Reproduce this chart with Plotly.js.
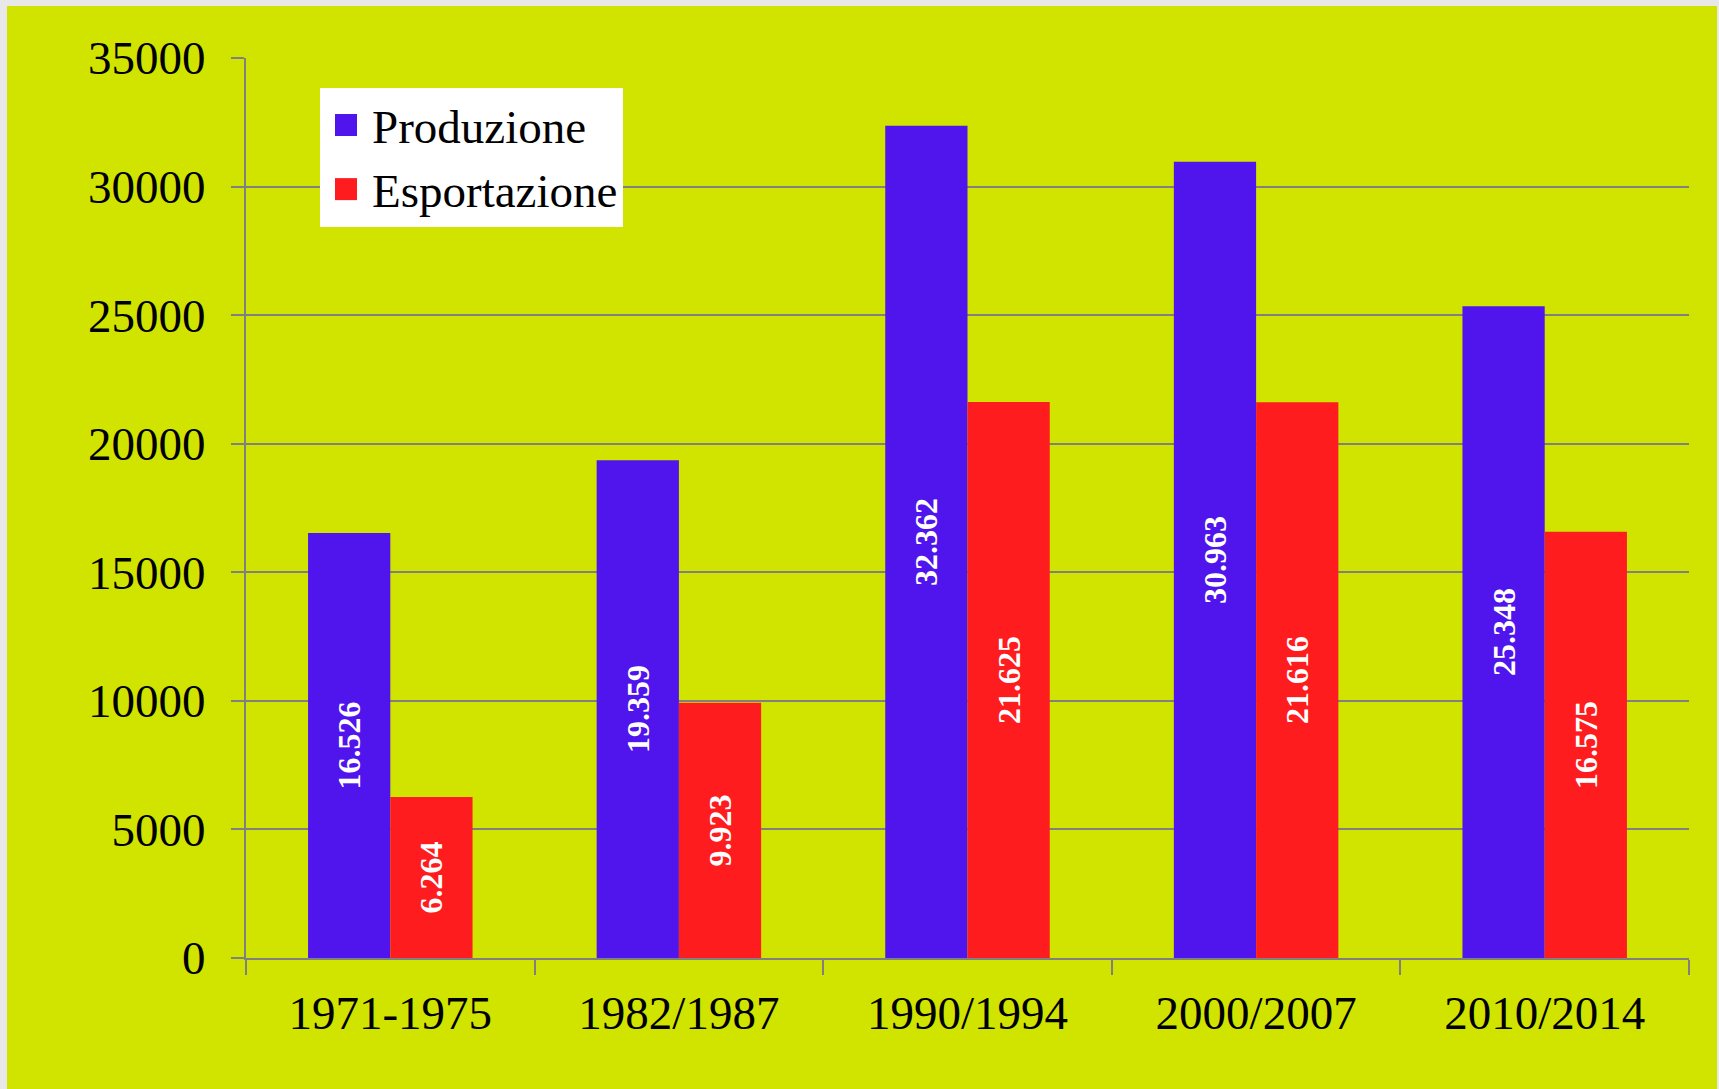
<!DOCTYPE html>
<html>
<head>
<meta charset="utf-8">
<script src="https://cdn.plot.ly/plotly-3.0.1.min.js"></script>
<style>
  html, body { margin: 0; padding: 0; background: #e8e8e8; width: 1719px; height: 1089px; overflow: hidden; }
  #chart { position: absolute; left: 7px; top: 6px; width: 1710px; height: 1083px; }
</style>
</head>
<body>
<div id="chart"></div>
<script>
const categories = ["1971-1975", "1982/1987", "1990/1994", "2000/2007", "2010/2014"];
const produzione = [16526, 19359, 32362, 30963, 25348];
const esportazione = [6264, 9923, 21625, 21616, 16575];
const seriesNames = ["Produzione", "Esportazione"];

const serif = "Liberation Serif, Times New Roman, serif";
const labelFont = { family: serif, size: 32, color: "#ffffff", weight: "bold" };

function barTrace(name, values, color) {
  return {
    type: "bar",
    name: name,
    x: categories,
    y: values,
    marker: { color: color, line: { width: 0 } },
    texttemplate: "%{y:,}",
    textposition: "inside",
    insidetextanchor: "middle",
    textangle: -90,
    constraintext: "none",
    insidetextfont: labelFont,
    hoverinfo: "x+y+name"
  };
}

const data = [
  barTrace(seriesNames[0], produzione, "#5014EC"),
  barTrace(seriesNames[1], esportazione, "#FF1C1E")
];

const layout = {
  width: 1710,
  height: 1083,
  margin: { l: 239, r: 28, t: 52, b: 131 },
  paper_bgcolor: "#D0E400",
  plot_bgcolor: "#D0E400",
  separators: ",.",
  barmode: "group",
  bargap: 0.43,
  bargroupgap: 0,
  font: { family: serif, size: 47, color: "#000000" },
  showlegend: true,
  legend: {
    x: 0.0513, y: 0.9667, xanchor: "left", yanchor: "top",
    bgcolor: "#ffffff",
    borderwidth: 0,
    font: { family: serif, size: 47, color: "#000000" },
    itemwidth: 42,
    traceorder: "normal"
  },
  xaxis: {
    type: "category",
    tickson: "boundaries",
    ticks: "outside",
    ticklen: 15,
    tickwidth: 2,
    tickcolor: "#808080",
    showline: true,
    linecolor: "#808080",
    linewidth: 2,
    showgrid: false,
    ticklabelstandoff: 13,
    tickfont: { family: serif, size: 47, color: "#000000" }
  },
  yaxis: {
    range: [0, 35000],
    dtick: 5000,
    tick0: 0,
    ticks: "outside",
    ticklen: 13,
    tickwidth: 2,
    tickcolor: "#808080",
    showline: true,
    linecolor: "#808080",
    linewidth: 2,
    showgrid: true,
    gridcolor: "#808080",
    gridwidth: 2,
    zeroline: false,
    tickformat: "d",
    ticklabelstandoff: 16,
    tickfont: { family: serif, size: 47, color: "#000000" }
  }
};

Plotly.newPlot("chart", data, layout, { displayModeBar: false, staticPlot: true }).then(function (gd) {
  // enlarge the legend swatches (keep Plotly's own placement transform)
  gd.querySelectorAll(".legendpoints path").forEach(function (p) {
    p.setAttribute("d", "M11,11H-11V-11H11Z");
  });
});
</script>
</body>
</html>
